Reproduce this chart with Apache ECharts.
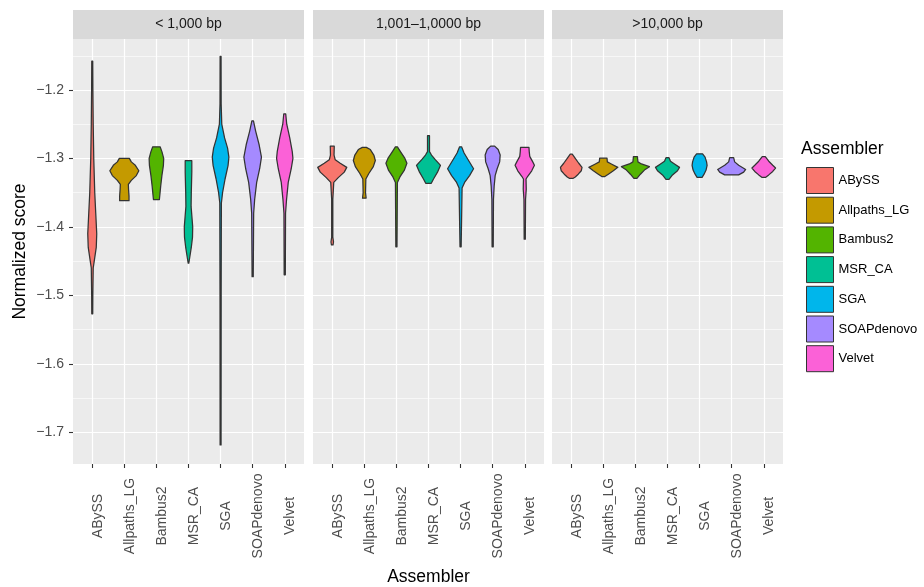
<!DOCTYPE html>
<html>
<head>
<meta charset="utf-8">
<script src="https://cdn.jsdelivr.net/npm/echarts@6/dist/echarts.min.js"></script>
<style>
  html, body { margin: 0; padding: 0; background: #ffffff; }
  #chart { width: 924px; height: 587px; }
</style>
</head>
<body>
<div id="chart"></div>
<script>
// Assemblers (x categories / legend entries)
const assemblers = ['ABySS', 'Allpaths_LG', 'Bambus2', 'MSR_CA', 'SGA', 'SOAPdenovo', 'Velvet'];

// Contig-length facets
const facetLabels = ['< 1,000 bp', '1,001\u20131,0000 bp', '>10,000 bp'];

// Y axis ticks (major and minor gridlines)
const yTicks = [-1.7, -1.6, -1.5, -1.4, -1.3, -1.2];
const yMinorTicks = [-1.65, -1.55, -1.45, -1.35, -1.25, -1.15];

// Violin outlines: [normalized score, half-width of the density in category units]
const profilesShort = [
  [[-1.158, 0.015], [-1.20, 0.02], [-1.25, 0.03], [-1.30, 0.047], [-1.35, 0.078], [-1.38, 0.109], [-1.41, 0.14], [-1.43, 0.125], [-1.45, 0.062], [-1.46, 0.03], [-1.50, 0.018], [-1.527, 0.015]],
  [[-1.2998, 0.156], [-1.305, 0.218], [-1.31, 0.343], [-1.318, 0.452], [-1.325, 0.374], [-1.332, 0.218], [-1.338, 0.125], [-1.345, 0.131], [-1.355, 0.146], [-1.3617, 0.146]],
  [[-1.283, 0.115], [-1.29, 0.171], [-1.30, 0.227], [-1.31, 0.218], [-1.325, 0.171], [-1.34, 0.134], [-1.36, 0.093]],
  [[-1.3032, 0.103], [-1.32, 0.103], [-1.35, 0.087], [-1.37, 0.081], [-1.385, 0.106], [-1.40, 0.131], [-1.415, 0.125], [-1.43, 0.087], [-1.445, 0.037], [-1.453, 0.01]],
  [[-1.151, 0.015], [-1.22, 0.018], [-1.25, 0.037], [-1.27, 0.125], [-1.285, 0.218], [-1.298, 0.259], [-1.31, 0.234], [-1.33, 0.14], [-1.35, 0.062], [-1.365, 0.025], [-1.50, 0.018], [-1.7185, 0.015]],
  [[-1.245, 0.025], [-1.26, 0.093], [-1.28, 0.202], [-1.298, 0.274], [-1.315, 0.218], [-1.335, 0.125], [-1.36, 0.062], [-1.38, 0.031], [-1.4727, 0.018]],
  [[-1.235, 0.031], [-1.25, 0.062], [-1.27, 0.156], [-1.29, 0.234], [-1.30, 0.255], [-1.315, 0.202], [-1.335, 0.109], [-1.36, 0.056], [-1.38, 0.025], [-1.47, 0.018]]
];

const profilesMid = [
  [[-1.282, 0.062], [-1.295, 0.056], [-1.302, 0.093], [-1.307, 0.249], [-1.313, 0.452], [-1.32, 0.374], [-1.328, 0.187], [-1.335, 0.047], [-1.36, 0.018], [-1.415, 0.018], [-1.422, 0.04], [-1.4264, 0.025]],
  [[-1.2838, 0.062], [-1.287, 0.187], [-1.295, 0.296], [-1.303, 0.343], [-1.312, 0.28], [-1.322, 0.14], [-1.33, 0.047], [-1.35, 0.037], [-1.358, 0.056]],
  [[-1.283, 0.031], [-1.29, 0.125], [-1.30, 0.265], [-1.307, 0.327], [-1.317, 0.249], [-1.327, 0.109], [-1.335, 0.031], [-1.429, 0.018]],
  [[-1.2667, 0.031], [-1.29, 0.031], [-1.295, 0.093], [-1.302, 0.218], [-1.31, 0.374], [-1.32, 0.28], [-1.33, 0.156], [-1.3363, 0.087]],
  [[-1.283, 0.031], [-1.292, 0.109], [-1.303, 0.249], [-1.315, 0.405], [-1.325, 0.28], [-1.335, 0.125], [-1.343, 0.047], [-1.429, 0.018]],
  [[-1.282, 0.062], [-1.287, 0.171], [-1.295, 0.234], [-1.305, 0.218], [-1.315, 0.14], [-1.325, 0.078], [-1.34, 0.047], [-1.36, 0.025], [-1.429, 0.018]],
  [[-1.2838, 0.131], [-1.29, 0.14], [-1.297, 0.156], [-1.305, 0.249], [-1.31, 0.302], [-1.318, 0.218], [-1.326, 0.093], [-1.33, 0.04], [-1.345, 0.047], [-1.36, 0.025], [-1.418, 0.018]]
];

const profilesLong = [
  [[-1.2937, 0.031], [-1.30, 0.125], [-1.307, 0.234], [-1.313, 0.336], [-1.318, 0.312], [-1.323, 0.218], [-1.327, 0.125], [-1.329, 0.062]],
  [[-1.2996, 0.115], [-1.305, 0.125], [-1.308, 0.249], [-1.313, 0.452], [-1.318, 0.312], [-1.323, 0.156], [-1.3265, 0.047]],
  [[-1.2973, 0.062], [-1.305, 0.078], [-1.308, 0.187], [-1.312, 0.436], [-1.317, 0.28], [-1.323, 0.156], [-1.329, 0.047]],
  [[-1.2988, 0.047], [-1.304, 0.093], [-1.308, 0.218], [-1.313, 0.374], [-1.318, 0.312], [-1.324, 0.156], [-1.3304, 0.047]],
  [[-1.2932, 0.093], [-1.298, 0.171], [-1.305, 0.218], [-1.31, 0.234], [-1.317, 0.202], [-1.323, 0.14], [-1.3275, 0.078]],
  [[-1.2988, 0.062], [-1.305, 0.093], [-1.31, 0.218], [-1.316, 0.436], [-1.32, 0.374], [-1.324, 0.218]],
  [[-1.2973, 0.047], [-1.304, 0.156], [-1.31, 0.28], [-1.314, 0.368], [-1.319, 0.28], [-1.324, 0.156], [-1.3275, 0.062]]
];

const facetProfiles = [profilesShort, profilesMid, profilesLong];

// ggplot2 default hue palette for seven groups
const fillColors = ['#F8766D', '#C49A00', '#53B400', '#00C094', '#00B6EB', '#A58AFF', '#FB61D7'];

const FONT = '"Liberation Sans", Arial, Helvetica, sans-serif';
const panelLeft = [73, 313, 552];
const panelWidth = 231;
const panelTop = 39;
const panelHeight = 425;
const yMin = -1.7463, yMax = -1.1255;
const catIdx = assemblers.map((_, i) => i);

const fmtY = v => v.toFixed(1).replace('-', '\u2212');

const grids = panelLeft.map(l => ({
  left: l, top: panelTop, width: panelWidth, height: panelHeight,
  show: true, backgroundColor: '#EBEBEB', borderWidth: 0
}));

const xAxes = panelLeft.map((_, g) => ({
  gridIndex: g, type: 'value', min: -0.6, max: 6.6,
  axisLine: { show: false, onZero: false },
  axisTick: { show: true, customValues: catIdx, length: 4, lineStyle: { color: '#333333', width: 1.1 } },
  axisLabel: {
    customValues: catIdx, formatter: v => assemblers[Math.round(v)],
    rotate: 90, align: 'center', verticalAlign: 'top', lineHeight: 11,
    fontSize: 14, color: '#4D4D4D', margin: 52, fontFamily: FONT
  },
  splitLine: { show: true, lineStyle: { color: '#FFFFFF', width: 1.2 } }
}));

// major y axes (one per panel)
const yAxes = panelLeft.map((_, g) => ({
  gridIndex: g, type: 'value', min: yMin, max: yMax,
  axisLine: { show: false, onZero: false },
  axisTick: { show: g === 0, customValues: yTicks, length: 4, lineStyle: { color: '#333333', width: 1.1 } },
  axisLabel: {
    show: g === 0, customValues: yTicks, formatter: fmtY,
    fontSize: 14, color: '#4D4D4D', margin: 9, fontFamily: FONT
  },
  splitLine: { show: true, lineStyle: { color: '#FFFFFF', width: 1.2 } },
  name: g === 0 ? 'Normalized score' : '',
  nameLocation: 'middle', nameGap: 44, nameRotate: 90,
  nameTextStyle: { fontSize: 17.5, color: '#000000', fontFamily: FONT }
}));

// minor gridlines drawn by a second, label-less y axis in each panel
panelLeft.forEach((_, g) => {
  yAxes.push({
    gridIndex: g, type: 'value', min: yMin, max: yMax, position: 'left',
    axisLine: { show: false, onZero: false },
    axisTick: { show: false, customValues: yMinorTicks },
    axisLabel: { show: false, customValues: yMinorTicks },
    splitLine: { show: true, lineStyle: { color: '#FFFFFF', width: 0.6 } }
  });
});

const series = [];
facetProfiles.forEach((profiles, g) => {
  profiles.forEach((prof, i) => {
    const vals = prof.map(p => p[0]);
    series.push({
      type: 'custom',
      name: assemblers[i],
      xAxisIndex: g, yAxisIndex: g,
      data: [[i, Math.max(...vals), Math.min(...vals)]],
      encode: { x: 0, y: [1, 2] },
      itemStyle: { color: fillColors[i], borderColor: '#333333', borderWidth: 1 },
      z: 5,
      renderItem: (params, api) => {
        const x0 = api.value(0);
        const right = prof.map(([v, w]) => api.coord([x0 + w, v]));
        const left = prof.slice().reverse().map(([v, w]) => api.coord([x0 - w, v]));
        return {
          type: 'polygon',
          shape: { points: right.concat(left) },
          style: { fill: api.visual('color'), stroke: '#333333', lineWidth: 1.25, lineJoin: 'round' }
        };
      }
    });
  });
});

// facet strips, x axis title and legend title
const graphic = [];
panelLeft.forEach((l, g) => {
  graphic.push({
    type: 'rect', left: l, top: 10, silent: true,
    shape: { width: panelWidth, height: 29 },
    style: { fill: '#D9D9D9' }
  });
  graphic.push({
    type: 'text', silent: true, x: l + panelWidth / 2, y: 24.5,
    style: { text: facetLabels[g], fill: '#1A1A1A', fontSize: 14, fontFamily: FONT, align: 'center', verticalAlign: 'middle' }
  });
});
graphic.push({
  type: 'text', silent: true, x: panelLeft[1] + panelWidth / 2, y: 577,
  style: { text: 'Assembler', fill: '#000000', fontSize: 17.5, fontFamily: FONT, align: 'center', verticalAlign: 'middle' }
});
graphic.push({
  type: 'text', silent: true, x: 801, y: 149,
  style: { text: 'Assembler', fill: '#000000', fontSize: 17.5, fontFamily: FONT, align: 'left', verticalAlign: 'middle' }
});

const chart = echarts.init(document.getElementById('chart'), null, { renderer: 'canvas' });
chart.setOption({
  animation: false,
  textStyle: { fontFamily: FONT },
  grid: grids,
  xAxis: xAxes,
  yAxis: yAxes,
  legend: {
    data: assemblers, orient: 'vertical', left: 801, top: 162,
    icon: 'rect', itemWidth: 27, itemHeight: 26, itemGap: 2.7,
    textStyle: { fontSize: 13, color: '#000000', fontFamily: FONT },
    itemStyle: { borderColor: '#333333', borderWidth: 1 }
  },
  graphic: graphic,
  series: series
});
</script>
</body>
</html>
